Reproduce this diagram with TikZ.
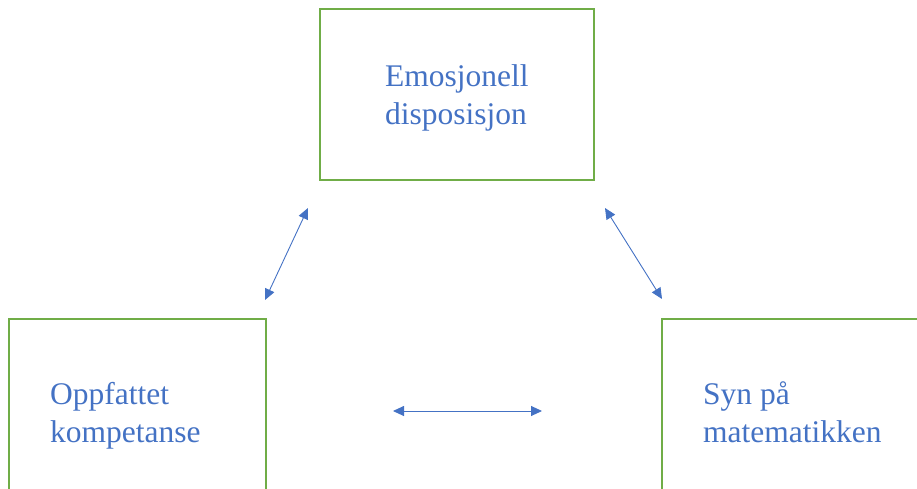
\documentclass[tikz,border=0pt]{standalone}
\usepackage{fontspec}
\setmainfont{Liberation Serif}
\usepackage{xcolor}
\usetikzlibrary{arrows.meta}

\definecolor{boxgreen}{HTML}{70AD47}
\definecolor{textblue}{HTML}{4472C4}

\tikzset{
  faktor/.style={draw=boxgreen, line width=1.5pt, inner sep=0pt},
  tekst/.style={text=textblue, align=left, anchor=base west, inner sep=0pt,
    font=\fontsize{31.5}{38}\selectfont},
  pil/.style={draw=textblue, line width=0.9pt,
    {Triangle[length=11pt,width=10pt]}-{Triangle[length=11pt,width=10pt]}}
}

\begin{document}
\begin{tikzpicture}[x=1pt, y=-1pt]
\useasboundingbox (0,0) rectangle (917,489);
\clip (0,0) rectangle (917,489);

% the three boxes
\node[faktor, minimum width=274pt, minimum height=171pt] (emosjon) at (457,94.5) {};
\node[faktor, minimum width=257pt, minimum height=200pt] (oppfattet) at (137.5,419) {};
\node[faktor, minimum width=257pt, minimum height=200pt] (syn) at (790.5,419) {};

% text, placed on the baseline of the last line
\node[tekst] (emosjon-tekst) at (385,125) {Emosjonell\\disposisjon};
\node[tekst] (oppfattet-tekst) at (50,442) {Oppfattet\\kompetanse};
\node[tekst] (syn-tekst) at (703,442.5) {Syn på\\matematikken};

% arrow ends
\coordinate (venstre-topp) at (308,208);
\coordinate (venstre-bunn) at (265,300);
\coordinate (hoyre-topp) at (605,208);
\coordinate (hoyre-bunn) at (662,299);
\coordinate (midt-v) at (393,411);
\coordinate (midt-h) at (542,411);

\draw[pil] (venstre-topp) -- (venstre-bunn);
\draw[pil] (hoyre-topp) -- (hoyre-bunn);
\draw[pil] (midt-v) -- (midt-h);
\end{tikzpicture}
\end{document}
